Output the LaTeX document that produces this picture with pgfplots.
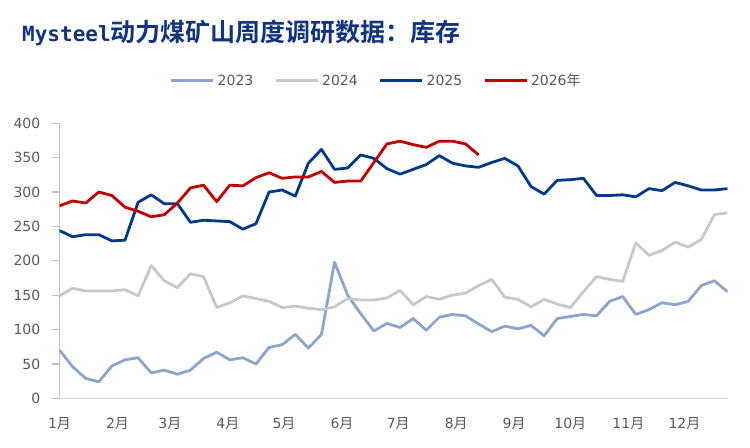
\documentclass[border=0pt]{standalone}
\usepackage{fontspec}
\setmainfont{DejaVu Sans}
\newfontfamily\cjk{Noto Sans CJK SC}
\newfontfamily\cjkbold{Noto Sans CJK SC Bold}
\newfontfamily\monobold{DejaVu Sans Mono Bold}
\usepackage{pgfplots}
\pgfplotsset{compat=1.18}
\definecolor{cA}{RGB}{140,165,204}
\definecolor{cB}{RGB}{200,200,200}
\definecolor{cC}{RGB}{0,58,135}
\definecolor{cD}{RGB}{192,0,0}
\definecolor{txt}{RGB}{89,89,89}
\definecolor{ttl}{RGB}{16,52,125}
\begin{document}
\begin{tikzpicture}
\path[use as bounding box] (0,0) rectangle (750bp,448bp);
\node[anchor=west, text=ttl, inner sep=0pt] at (22bp,415bp) {\monobold\fontsize{21bp}{24bp}\selectfont Mysteel\cjkbold\fontsize{25bp}{28bp}\selectfont 动力煤矿山周度调研数据：库存};
\begin{axis}[
  at={(59.5bp,49.7bp)}, anchor=south west,
  scale only axis, width=668bp, height=275bp,
  xmin=0, xmax=51, ymin=0, ymax=400,
  axis x line*=bottom, axis y line*=left,
  axis line style={-},
  x axis line style={draw=black!15, line width=1.2bp},
  y axis line style={draw=black!25, line width=1.2bp},
  ytick={0,50,...,400},
  xtick={0,4.43,8.43,12.86,17.14,21.57,25.86,30.29,34.71,39,43.43,47.71},
  xticklabels={1{\cjk 月},2{\cjk 月},3{\cjk 月},4{\cjk 月},5{\cjk 月},6{\cjk 月},7{\cjk 月},8{\cjk 月},9{\cjk 月},10{\cjk 月},11{\cjk 月},12{\cjk 月}},
  xtick style={draw=none},
  ytick style={draw=black!25, line width=1.2bp},
  tick align=outside, major tick length=7bp,
  /pgf/number format/assume math mode=true,
  tick label style={font=\fontsize{14bp}{16bp}\selectfont, text=txt},
  yticklabel style={anchor=east, inner sep=0pt, xshift=-12bp},
  xticklabel style={anchor=north, inner sep=0pt, yshift=-12bp},
  legend columns=4,
  legend style={draw=none, fill=none, at={(0.475,1.155)}, anchor=center,
    font=\fontsize{14bp}{16bp}\selectfont, text=txt,
    /tikz/every even column/.append style={column sep=18bp},
    nodes={inner sep=3bp}},
  legend image code/.code={\draw[#1] (0bp,0bp) -- (42bp,0bp);},
  every axis plot/.append style={line width=2.8bp, line join=round, no marks},
]
\addplot[cA] coordinates {(0,70)(1,46)(2,29)(3,24)(4,47)(5,56)(6,59)(7,37)(8,41)(9,35)(10,41)(11,58)(12,67)(13,56)(14,59)(15,50)(16,74)(17,78)(18,93)(19,73)(20,93)(21,198)(22,150)(23,123)(24,98)(25,109)(26,103)(27,116)(28,99)(29,118)(30,122)(31,120)(32,108)(33,97)(34,105)(35,101)(36,106)(37,91)(38,116)(39,119)(40,122)(41,120)(42,141)(43,148)(44,122)(45,129)(46,139)(47,136)(48,141)(49,164)(50,171)(51,155)};
\addlegendentry{2023}
\addplot[cB] coordinates {(0,149)(1,160)(2,156)(3,156)(4,156)(5,158)(6,149)(7,193)(8,171)(9,161)(10,181)(11,177)(12,132)(13,139)(14,149)(15,145)(16,141)(17,132)(18,134)(19,131)(20,129)(21,133)(22,145)(23,143)(24,143)(25,146)(26,157)(27,136)(28,148)(29,144)(30,150)(31,153)(32,164)(33,173)(34,147)(35,144)(36,133)(37,144)(38,137)(39,132)(40,155)(41,177)(42,173)(43,170)(44,226)(45,208)(46,215)(47,227)(48,220)(49,231)(50,267)(51,270)};
\addlegendentry{2024}
\addplot[cC] coordinates {(0,244)(1,235)(2,238)(3,238)(4,229)(5,230)(6,285)(7,296)(8,283)(9,283)(10,256)(11,259)(12,258)(13,257)(14,246)(15,254)(16,300)(17,303)(18,294)(19,342)(20,362)(21,333)(22,335)(23,354)(24,349)(25,334)(26,326)(27,333)(28,340)(29,353)(30,342)(31,338)(32,336)(33,343)(34,349)(35,338)(36,308)(37,297)(38,317)(39,318)(40,320)(41,295)(42,295)(43,296)(44,293)(45,305)(46,302)(47,314)(48,309)(49,303)(50,303)(51,305)};
\addlegendentry{2025}
\addplot[cD] coordinates {(0,280)(1,287)(2,284)(3,300)(4,295)(5,278)(6,272)(7,264)(8,267)(9,284)(10,306)(11,310)(12,286)(13,310)(14,309)(15,321)(16,328)(17,320)(18,322)(19,322)(20,330)(21,314)(22,316)(23,316)(24,343)(25,370)(26,374)(27,369)(28,365)(29,374)(30,374)(31,370)(32,354)};
\addlegendentry{2026{\cjk 年}}
\end{axis}
\end{tikzpicture}
\end{document}
